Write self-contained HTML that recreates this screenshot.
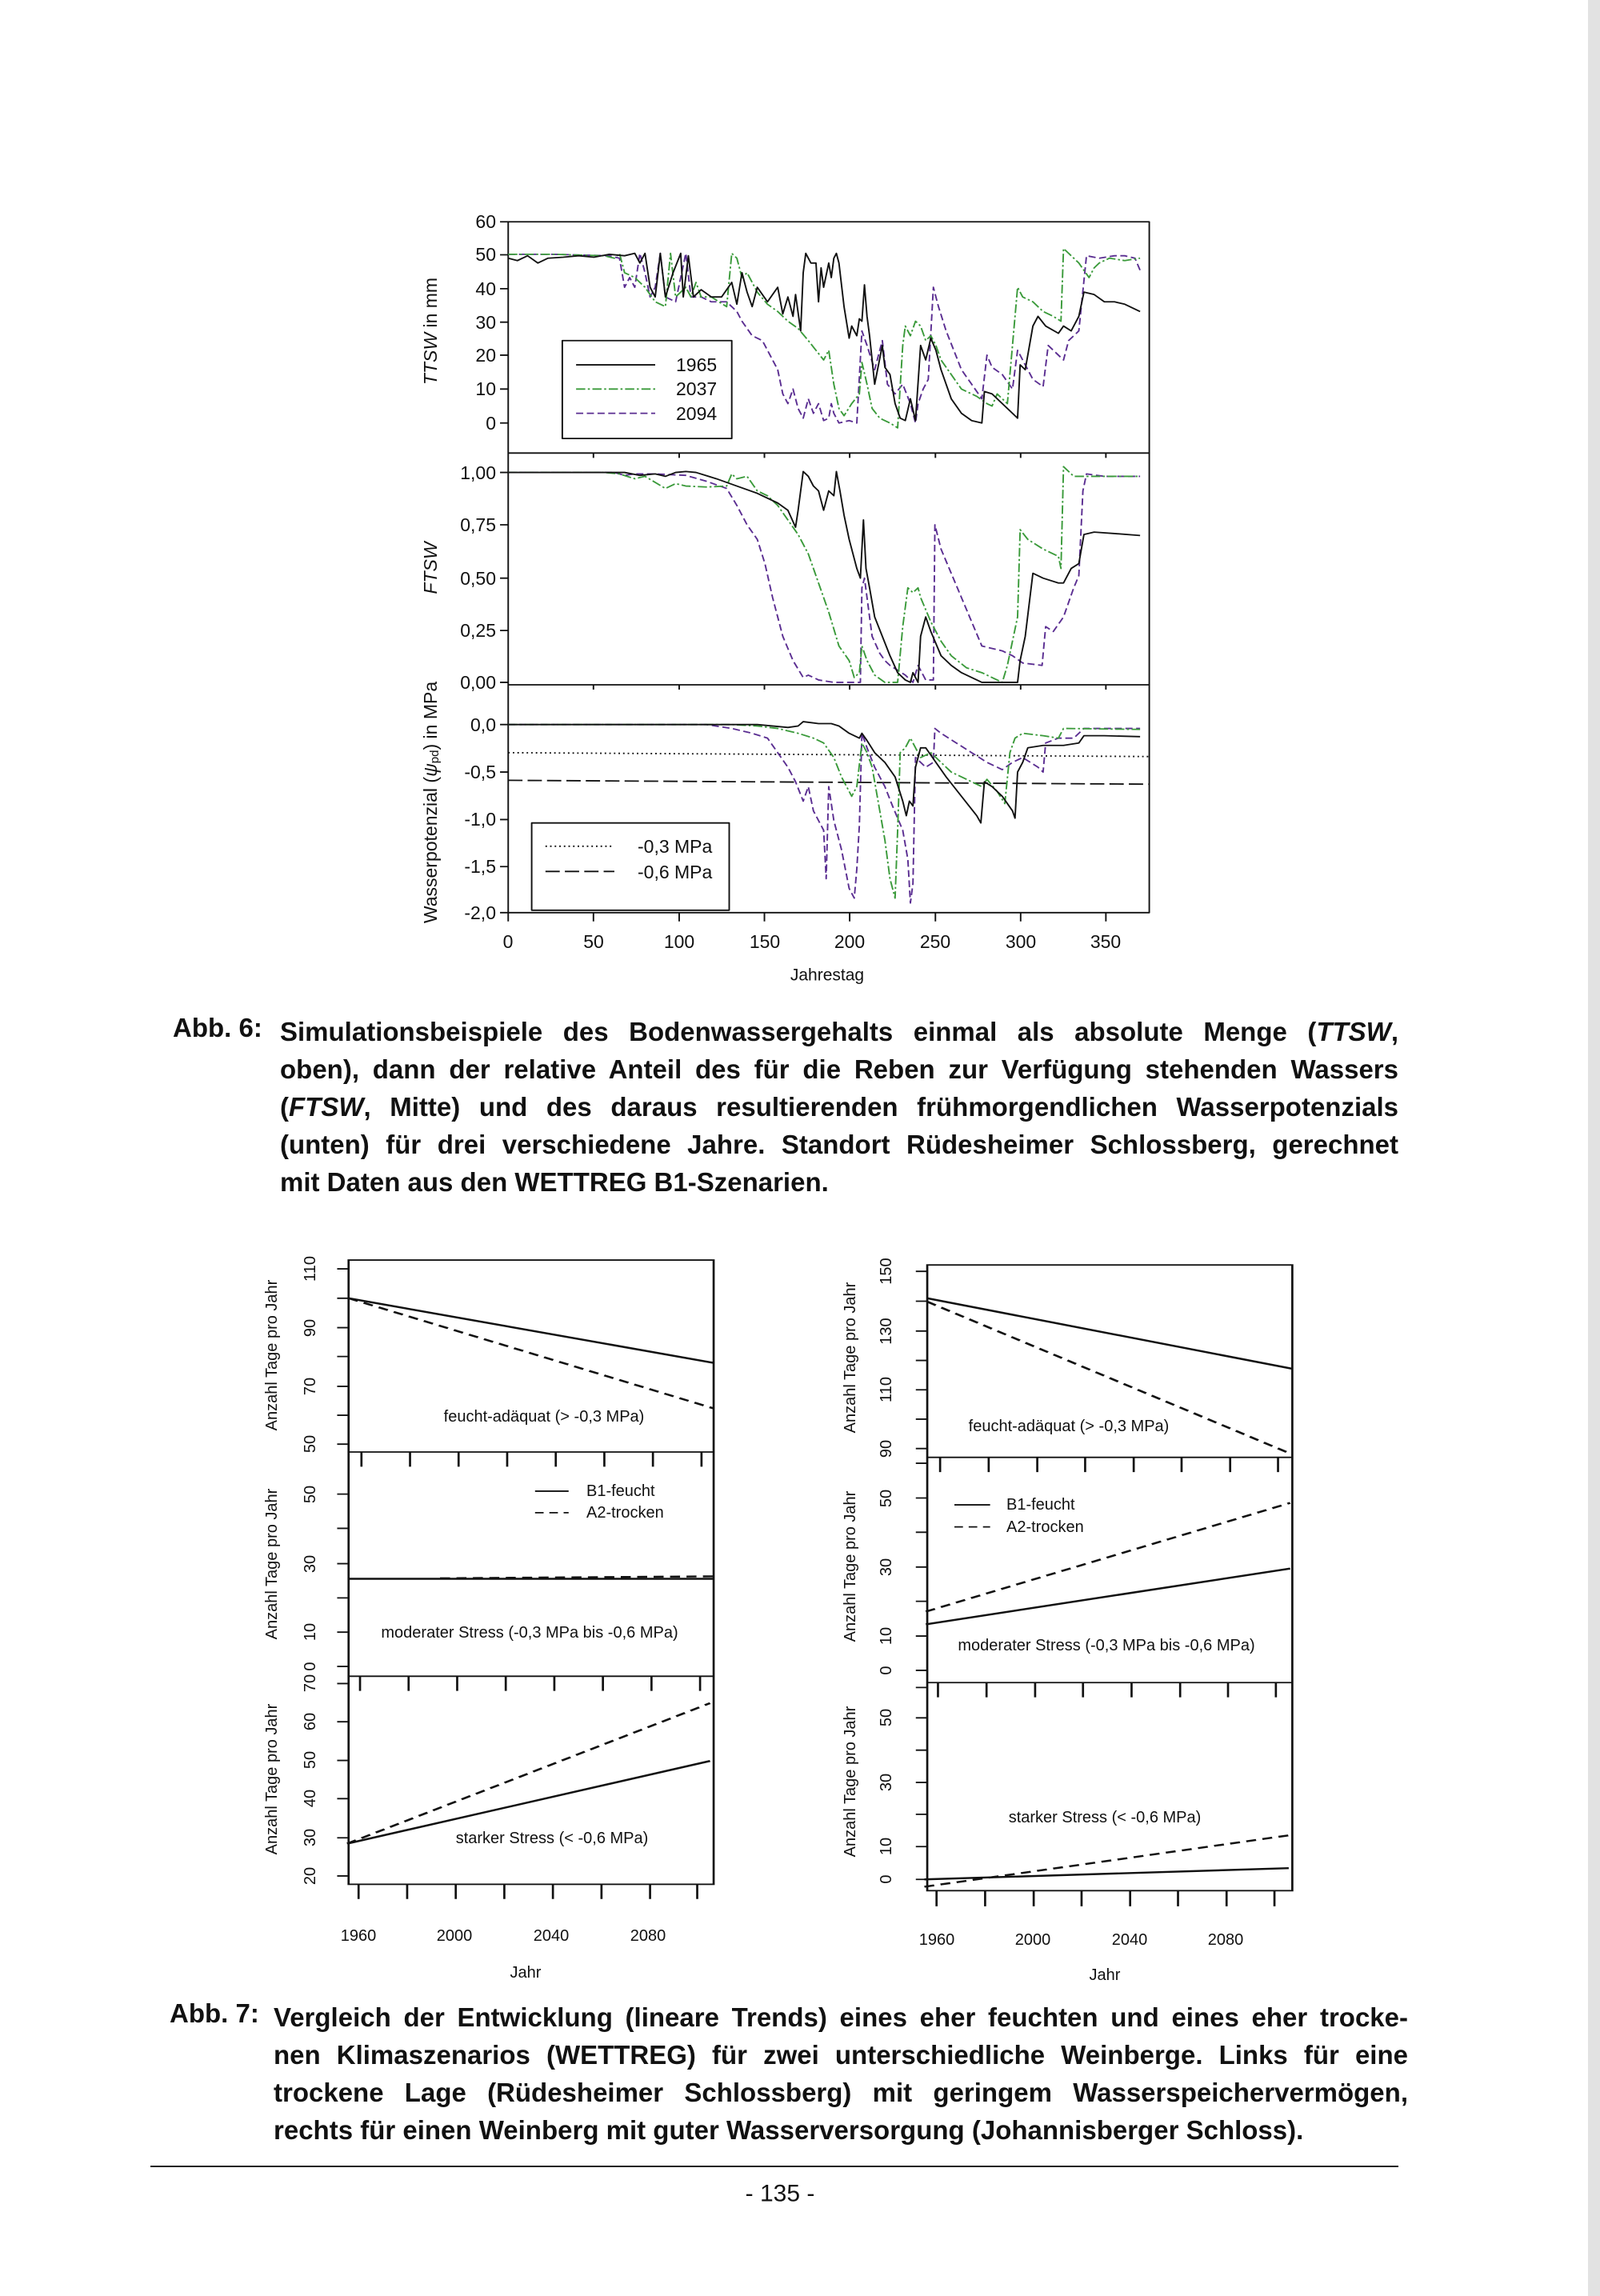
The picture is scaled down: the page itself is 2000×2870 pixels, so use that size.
<!DOCTYPE html>
<html><head><meta charset="utf-8"><style>
html,body{margin:0;padding:0;background:#fff}
body{width:2000px;height:2870px;position:relative;overflow:hidden;font-family:"Liberation Sans",sans-serif}
.cap{position:absolute;font-weight:bold;font-size:33px;color:#111}
.cap div{text-align:justify;text-align-last:justify;line-height:47px;height:47px;white-space:nowrap}
.cap div.l{text-align-last:left}
svg{position:absolute;left:0;top:0}
</style></head><body>
<div style="position:absolute;left:1985px;top:0;width:15px;height:2870px;background:#e2e2e2"></div>

<svg width="2000" height="2870" viewBox="0 0 2000 2870" font-family="Liberation Sans, sans-serif">
<!-- ===== TOP CHART (zoom1 coords) ===== -->
<g transform="translate(500,250) scale(0.638,0.606)" fill="none" stroke-linejoin="round">
 <rect x="212" y="45" width="1256" height="1425" stroke="#111" stroke-width="3"/>
 <line x1="212" y1="522" x2="1468" y2="522" stroke="#111" stroke-width="3"/>
 <line x1="212" y1="1000" x2="1468" y2="1000" stroke="#111" stroke-width="3"/>
 <g stroke="#111" stroke-width="3">
  <path d="M196 45H212M196 113H212M196 183H212M196 252H212M196 320H212M196 390H212M196 460H212
  M196 562H212M196 670H212M196 780H212M196 888H212M196 995H212
  M196 1082H212M196 1180H212M196 1278H212M196 1375H212M196 1470H212
  M212 1470V1488M379 1470V1488M547 1470V1488M714 1470V1488M881 1470V1488M1049 1470V1488M1216 1470V1488M1383 1470V1488
  M379 522V532M547 522V532M714 522V532M881 522V532M1049 522V532M1216 522V532M1383 522V532
  M379 1000V1010M547 1000V1010M714 1000V1010M881 1000V1010M1049 1000V1010M1216 1000V1010M1383 1000V1010"/>
 </g>
 <!-- TTSW -->
 <polyline stroke="#5a2d91" stroke-width="3" stroke-dasharray="14,7" points="212,112 300,112 410,115 430,120 440,180 450,160 460,180 470,110 480,150 490,200 500,180 510,110 520,200 540,210 560,110 570,200 590,200 610,210 640,210 660,230 670,250 690,280 710,290 720,310 740,350 750,400 760,420 770,390 780,430 790,450 800,410 810,440 820,420 830,455 840,450 845,420 850,440 860,460 880,455 895,460 905,270 915,300 930,350 945,290 955,380 970,400 985,380 1000,420 1010,460 1015,420 1025,390 1035,370 1045,180 1055,220 1070,270 1085,310 1100,350 1120,380 1140,410 1150,320 1160,345 1180,360 1200,390 1210,310 1220,330 1240,370 1260,385 1270,300 1280,310 1300,330 1310,290 1330,270 1345,115 1370,120 1400,115 1420,115 1440,120 1450,145"/>
 <polyline stroke="#3a9a3a" stroke-width="3" stroke-dasharray="18,5,4,5" points="212,112 300,112 400,115 420,120 430,110 440,150 460,160 480,180 500,210 520,220 530,110 540,200 560,180 570,200 580,170 590,200 610,200 640,220 650,110 660,120 670,160 680,150 700,190 720,215 740,230 760,250 780,265 800,290 815,310 830,330 840,310 850,380 860,430 870,445 885,420 900,400 905,335 915,380 925,430 940,450 960,460 975,470 985,300 990,260 1000,280 1010,250 1020,260 1030,290 1040,280 1050,300 1060,330 1080,360 1100,390 1130,405 1150,420 1160,425 1170,400 1190,420 1210,180 1220,200 1240,210 1260,230 1280,240 1295,250 1300,100 1310,110 1330,130 1350,160 1360,140 1370,130 1390,120 1420,125 1450,120"/>
 <polyline stroke="#111" stroke-width="3" points="212,120 230,125 250,115 270,130 290,120 320,118 350,115 380,118 410,112 440,115 460,110 470,130 480,110 490,180 500,200 510,110 520,200 535,150 550,110 555,200 565,115 575,200 590,185 610,200 630,200 650,170 660,215 670,150 680,190 690,220 700,180 720,210 740,180 750,235 760,200 770,240 775,195 785,270 790,150 795,110 805,130 815,130 820,210 825,140 830,180 840,130 845,160 850,120 855,110 860,130 870,220 880,285 885,260 895,280 900,245 905,250 910,175 915,240 920,280 930,380 945,300 950,345 960,360 970,420 980,450 990,455 1000,410 1010,455 1020,300 1030,330 1040,285 1050,310 1060,350 1080,410 1100,440 1120,455 1140,460 1145,395 1160,400 1180,420 1200,440 1210,450 1215,340 1225,350 1240,260 1250,240 1265,260 1290,275 1300,260 1315,270 1330,240 1340,190 1360,195 1380,210 1400,210 1420,215 1450,230"/>
 <!-- FTSW -->
 <polyline stroke="#5a2d91" stroke-width="3" stroke-dasharray="14,7" points="212,562 420,562 440,568 460,565 500,565 560,568 600,580 640,595 660,630 680,670 700,700 715,750 730,820 750,900 770,950 790,985 800,980 820,990 850,995 902,995 905,800 910,780 925,900 940,935 950,950 960,960 990,980 1005,995 1015,960 1030,990 1045,990 1048,670 1060,720 1080,770 1100,820 1120,870 1140,920 1180,930 1200,940 1220,955 1258,960 1265,880 1280,890 1300,860 1320,800 1330,775 1338,600 1345,565 1380,570 1450,570"/>
 <polyline stroke="#3a9a3a" stroke-width="3" stroke-dasharray="18,5,4,5" points="212,562 400,562 430,565 460,575 480,570 520,595 540,585 560,590 600,592 640,590 650,565 660,575 680,570 700,600 720,610 740,630 760,660 780,690 800,730 820,790 840,850 860,920 880,950 890,985 900,975 905,920 915,950 930,980 950,995 975,995 985,880 995,800 1005,810 1015,800 1020,820 1040,870 1060,910 1080,940 1110,965 1140,975 1180,995 1190,960 1210,860 1215,680 1230,700 1260,720 1290,735 1295,760 1300,550 1320,570 1450,570"/>
 <polyline stroke="#111" stroke-width="3" points="212,562 440,562 470,568 500,565 520,570 540,562 560,560 580,562 620,575 660,590 700,605 740,625 760,640 775,675 780,640 790,560 800,570 810,590 820,600 830,640 840,600 850,610 855,560 862,600 870,650 880,700 895,760 902,780 908,660 913,760 920,800 930,860 945,900 960,940 975,975 990,990 1000,995 1005,975 1015,995 1020,900 1030,860 1040,890 1060,940 1080,960 1100,975 1140,995 1210,995 1215,950 1225,900 1240,770 1260,780 1290,790 1300,790 1315,760 1330,750 1340,690 1360,685 1400,688 1450,692"/>
 <!-- Psi -->
 <line x1="212" y1="1140" x2="1468" y2="1148" stroke="#111" stroke-width="3" stroke-dasharray="3,6"/>
 <line x1="212" y1="1197" x2="1468" y2="1205" stroke="#111" stroke-width="3" stroke-dasharray="28,10"/>
 <polyline stroke="#5a2d91" stroke-width="3" stroke-dasharray="14,7" points="212,1082 600,1082 650,1090 690,1100 720,1110 740,1140 760,1170 775,1200 790,1240 800,1210 810,1260 830,1300 835,1400 840,1210 850,1280 865,1340 880,1420 890,1440 895,1380 900,1290 905,1100 915,1130 930,1170 950,1210 965,1250 985,1300 995,1360 1000,1450 1005,1410 1010,1150 1030,1170 1045,1160 1048,1090 1060,1100 1090,1120 1120,1140 1150,1160 1180,1175 1200,1160 1220,1150 1250,1170 1260,1180 1265,1120 1290,1110 1320,1110 1340,1090 1450,1090"/>
 <polyline stroke="#3a9a3a" stroke-width="3" stroke-dasharray="18,5,4,5" points="212,1082 650,1082 700,1085 740,1090 780,1100 810,1110 830,1120 850,1150 865,1190 885,1230 895,1210 905,1120 915,1140 925,1170 935,1230 950,1320 960,1400 970,1440 975,1300 980,1140 990,1130 1000,1110 1010,1130 1020,1150 1040,1140 1060,1160 1080,1180 1120,1200 1140,1210 1150,1195 1170,1220 1185,1245 1195,1140 1205,1110 1220,1100 1260,1105 1290,1110 1300,1090 1450,1092"/>
 <polyline stroke="#111" stroke-width="3" points="212,1082 700,1082 760,1088 780,1085 790,1076 820,1080 845,1080 860,1085 880,1100 900,1110 905,1100 915,1115 930,1140 950,1160 970,1190 985,1240 992,1270 998,1240 1005,1250 1010,1170 1020,1130 1030,1130 1050,1160 1070,1190 1100,1230 1130,1270 1138,1285 1145,1200 1160,1210 1180,1230 1200,1260 1205,1275 1210,1180 1220,1160 1230,1130 1260,1125 1300,1125 1330,1120 1340,1105 1380,1105 1450,1107"/>
 <!-- legends -->
 <rect x="318" y="290" width="332" height="202" fill="#fff" stroke="#111" stroke-width="3"/>
 <line x1="345" y1="340" x2="500" y2="340" stroke="#111" stroke-width="3"/>
 <line x1="345" y1="390" x2="500" y2="390" stroke="#3a9a3a" stroke-width="3" stroke-dasharray="18,5,4,5"/>
 <line x1="345" y1="440" x2="500" y2="440" stroke="#5a2d91" stroke-width="3" stroke-dasharray="14,7"/>
 <rect x="258" y="1285" width="387" height="180" fill="#fff" stroke="#111" stroke-width="3"/>
 <line x1="285" y1="1333" x2="420" y2="1333" stroke="#111" stroke-width="3" stroke-dasharray="3,6"/>
 <line x1="285" y1="1385" x2="420" y2="1385" stroke="#111" stroke-width="3" stroke-dasharray="28,10"/>
</g>
<g font-size="23" fill="#111" text-anchor="end" dominant-baseline="central">
 <text x="620" y="277">60</text><text x="620" y="318">50</text><text x="620" y="361">40</text><text x="620" y="403">30</text><text x="620" y="444">20</text><text x="620" y="486">10</text><text x="620" y="529">0</text>
 <text x="620" y="591">1,00</text><text x="620" y="656">0,75</text><text x="620" y="723">0,50</text><text x="620" y="788">0,25</text><text x="620" y="853">0,00</text>
 <text x="620" y="906">0,0</text><text x="620" y="965">-0,5</text><text x="620" y="1024">-1,0</text><text x="620" y="1083">-1,5</text><text x="620" y="1141">-2,0</text>
</g>
<g font-size="23" fill="#111" text-anchor="start" dominant-baseline="central">
 <text x="845" y="456">1965</text><text x="845" y="486">2037</text><text x="845" y="517">2094</text>
 <text x="797" y="1058">-0,3 MPa</text><text x="797" y="1090">-0,6 MPa</text>
</g>
<g font-size="23" fill="#111" text-anchor="middle" dominant-baseline="central">
 <text x="635" y="1177">0</text><text x="742" y="1177">50</text><text x="849" y="1177">100</text><text x="956" y="1177">150</text><text x="1062" y="1177">200</text><text x="1169" y="1177">250</text><text x="1276" y="1177">300</text><text x="1382" y="1177">350</text>
 <text x="1034" y="1219" font-size="21">Jahrestag</text>
 <text transform="translate(538,414) rotate(-90)" font-size="23"><tspan font-style="italic">TTSW</tspan> in mm</text>
 <text transform="translate(538,710) rotate(-90)" font-size="23" font-style="italic">FTSW</text>
 <text transform="translate(538,1003) rotate(-90)" font-size="23">Wasserpotenzial (<tspan font-style="italic">ψ</tspan><tspan font-size="15" dy="5">pd</tspan><tspan dy="-5">) in MPa</tspan></text>
</g>

<!-- ===== BOTTOM CHARTS (zoom2 coords) ===== -->
<g transform="translate(300,1520) scale(0.893,0.612)" fill="none" stroke="#111" stroke-width="3">
 <!-- left -->
 <rect x="152" y="90" width="511" height="1275"/>
 <line x1="152" y1="482" x2="663" y2="482"/><line x1="152" y1="940" x2="663" y2="940"/>
 <path d="M136 108H152M136 168H152M136 228H152M136 287H152M136 348H152M136 407H152M136 466H152
 M136 568H152M136 638H152M136 710H152M136 780H152M136 850H152M136 920H152
 M136 955H152M136 1033H152M136 1112H152M136 1190H152M136 1270H152M136 1348H152
 M170 482V512M238 482V512M306 482V512M374 482V512M442 482V512M510 482V512M578 482V512M646 482V512
 M168 940V970M236 940V970M304 940V970M372 940V970M440 940V970M508 940V970M576 940V970M644 940V970
 M166 1365V1395M234 1365V1395M302 1365V1395M370 1365V1395M438 1365V1395M506 1365V1395M574 1365V1395M640 1365V1395"/>
 <line x1="152" y1="168" x2="663" y2="300" stroke-width="4"/>
 <line x1="152" y1="168" x2="663" y2="393" stroke-width="4" stroke-dasharray="14,9"/>
 <line x1="152" y1="741" x2="663" y2="741" stroke-width="4"/>
 <line x1="280" y1="740" x2="663" y2="736" stroke-width="4" stroke-dasharray="14,9"/>
 <line x1="150" y1="1282" x2="658" y2="1113" stroke-width="4"/>
 <line x1="150" y1="1282" x2="658" y2="995" stroke-width="4" stroke-dasharray="14,9"/>
 <line x1="413" y1="562" x2="460" y2="562"/><line x1="413" y1="606" x2="460" y2="606" stroke-dasharray="12,8"/>
 <!-- right -->
 <rect x="962" y="100" width="511" height="1278"/>
 <line x1="962" y1="493" x2="1473" y2="493"/><line x1="962" y1="953" x2="1473" y2="953"/>
 <path d="M946 113H962M946 174H962M946 235H962M946 295H962M946 355H962M946 415H962M946 475H962M946 505H962
 M946 576H962M946 646H962M946 717H962M946 787H962M946 858H962M946 928H962M946 963H962
 M946 1025H962M946 1091H962M946 1157H962M946 1222H962M946 1288H962M946 1355H962
 M980 493V523M1048 493V523M1116 493V523M1183 493V523M1251 493V523M1318 493V523M1386 493V523M1453 493V523
 M977 953V983M1045 953V983M1113 953V983M1180 953V983M1248 953V983M1316 953V983M1383 953V983M1450 953V983
 M975 1378V1410M1043 1378V1410M1111 1378V1410M1178 1378V1410M1246 1378V1410M1313 1378V1410M1381 1378V1410M1448 1378V1410"/>
 <line x1="962" y1="168" x2="1473" y2="312" stroke-width="4"/>
 <line x1="962" y1="175" x2="1473" y2="487" stroke-width="4" stroke-dasharray="14,9"/>
 <line x1="960" y1="834" x2="1470" y2="720" stroke-width="4"/>
 <line x1="960" y1="808" x2="1470" y2="586" stroke-width="4" stroke-dasharray="14,9"/>
 <line x1="958" y1="1355" x2="1468" y2="1332" stroke-width="4"/>
 <line x1="958" y1="1370" x2="1468" y2="1265" stroke-width="4" stroke-dasharray="14,9"/>
 <line x1="1000" y1="590" x2="1050" y2="590"/><line x1="1000" y1="635" x2="1050" y2="635" stroke-dasharray="12,8"/>
</g>
<g font-size="20" fill="#111" text-anchor="middle" dominant-baseline="central">
 <text transform="translate(388,1586) rotate(-90)">110</text><text transform="translate(388,1660) rotate(-90)">90</text><text transform="translate(388,1733) rotate(-90)">70</text><text transform="translate(388,1805) rotate(-90)">50</text>
 <text transform="translate(388,1868) rotate(-90)">50</text><text transform="translate(388,1955) rotate(-90)">30</text><text transform="translate(388,2040) rotate(-90)">10</text><text transform="translate(388,2083) rotate(-90)">0</text>
 <text transform="translate(388,2104) rotate(-90)">70</text><text transform="translate(388,2152) rotate(-90)">60</text><text transform="translate(388,2200) rotate(-90)">50</text><text transform="translate(388,2248) rotate(-90)">40</text><text transform="translate(388,2297) rotate(-90)">30</text><text transform="translate(388,2345) rotate(-90)">20</text>
 <text transform="translate(1108,1589) rotate(-90)">150</text><text transform="translate(1108,1664) rotate(-90)">130</text><text transform="translate(1108,1737) rotate(-90)">110</text><text transform="translate(1108,1811) rotate(-90)">90</text>
 <text transform="translate(1108,1873) rotate(-90)">50</text><text transform="translate(1108,1959) rotate(-90)">30</text><text transform="translate(1108,2045) rotate(-90)">10</text><text transform="translate(1108,2088) rotate(-90)">0</text>
 <text transform="translate(1108,2147) rotate(-90)">50</text><text transform="translate(1108,2228) rotate(-90)">30</text><text transform="translate(1108,2308) rotate(-90)">10</text><text transform="translate(1108,2349) rotate(-90)">0</text>
 <text transform="translate(340,1694) rotate(-90)">Anzahl Tage pro Jahr</text><text transform="translate(340,1955) rotate(-90)">Anzahl Tage pro Jahr</text><text transform="translate(340,2224) rotate(-90)">Anzahl Tage pro Jahr</text>
 <text transform="translate(1063,1697) rotate(-90)">Anzahl Tage pro Jahr</text><text transform="translate(1063,1958) rotate(-90)">Anzahl Tage pro Jahr</text><text transform="translate(1063,2227) rotate(-90)">Anzahl Tage pro Jahr</text>
 <text x="680" y="1771">feucht-adäquat (&gt; -0,3 MPa)</text>
 <text x="662" y="2041">moderater Stress (-0,3 MPa bis -0,6 MPa)</text>
 <text x="690" y="2298">starker Stress (&lt; -0,6 MPa)</text>
 <text x="1336" y="1783">feucht-adäquat (&gt; -0,3 MPa)</text>
 <text x="1383" y="2057">moderater Stress (-0,3 MPa bis -0,6 MPa)</text>
 <text x="1381" y="2272">starker Stress (&lt; -0,6 MPa)</text>
 <text x="448" y="2420">1960</text><text x="568" y="2420">2000</text><text x="689" y="2420">2040</text><text x="810" y="2420">2080</text>
 <text x="657" y="2466">Jahr</text>
 <text x="1171" y="2425">1960</text><text x="1291" y="2425">2000</text><text x="1412" y="2425">2040</text><text x="1532" y="2425">2080</text>
 <text x="1381" y="2469">Jahr</text>
</g>
<g font-size="20" fill="#111" dominant-baseline="central">
 <text x="733" y="1864">B1-feucht</text><text x="733" y="1891">A2-trocken</text>
 <text x="1258" y="1881">B1-feucht</text><text x="1258" y="1909">A2-trocken</text>
</g>
<line x1="188" y1="2708" x2="1748" y2="2708" stroke="#222" stroke-width="2"/>
<text x="975" y="2742" font-size="30" text-anchor="middle" dominant-baseline="central" fill="#111">- 135 -</text>
</svg>

<div class="cap" style="left:216px;top:1266px">Abb. 6:</div>
<div class="cap" style="left:350px;top:1266px;width:1398px">
 <div>Simulationsbeispiele des Bodenwassergehalts einmal als absolute Menge (<i>TTSW</i>,</div>
 <div>oben), dann der relative Anteil des für die Reben zur Verfügung stehenden Wassers</div>
 <div>(<i>FTSW</i>, Mitte) und des daraus resultierenden frühmorgendlichen Wasserpotenzials</div>
 <div>(unten) für drei verschiedene Jahre. Standort Rüdesheimer Schlossberg, gerechnet</div>
 <div class="l">mit Daten aus den WETTREG B1-Szenarien.</div>
</div>
<div class="cap" style="left:212px;top:2498px">Abb. 7:</div>
<div class="cap" style="left:342px;top:2498px;width:1418px">
 <div>Vergleich der Entwicklung (lineare Trends) eines eher feuchten und eines eher trocke-</div>
 <div>nen Klimaszenarios (WETTREG) für zwei unterschiedliche Weinberge. Links für eine</div>
 <div>trockene Lage (Rüdesheimer Schlossberg) mit geringem Wasserspeichervermögen,</div>
 <div class="l">rechts für einen Weinberg mit guter Wasserversorgung (Johannisberger Schloss).</div>
</div>
</body></html>
